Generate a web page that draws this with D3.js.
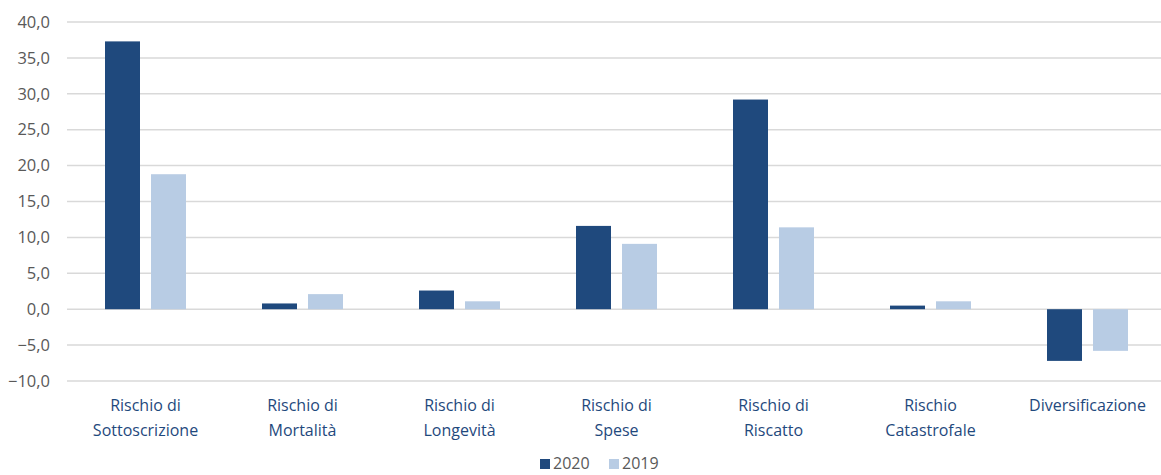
<!DOCTYPE html>
<html><head><meta charset="utf-8">
<script src="https://cdn.jsdelivr.net/npm/d3@7"></script>
<style>body{margin:0;background:#fff;}svg{display:block;}</style>
</head><body><svg id="c" width="1161" height="475"></svg>
<script>
const categories = [["Rischio di","Sottoscrizione"],["Rischio di","Mortalità"],["Rischio di","Longevità"],["Rischio di","Spese"],["Rischio di","Riscatto"],["Rischio","Catastrofale"],["Diversificazione"]];
const series = ["2020","2019"];
const values2020 = [37.3, 0.8, 2.6, 11.6, 29.2, 0.5, -7.2];
const values2019 = [18.8, 2.1, 1.1, 9.1, 11.4, 1.1, -5.8];
const yTicks = [-10,-5,0,5,10,15,20,25,30,35,40];
const colors = ["#1F497D","#B8CCE4"];

const svg = d3.select("#c");
const font = "'Open Sans', 'Liberation Sans', sans-serif";
const x = d3.scaleBand().domain(d3.range(categories.length)).range([67, 1166]).paddingInner(0).paddingOuter(0);
const y = d3.scaleLinear().domain([-10, 40]).range([381, 22]);
const xs = d3.scaleBand().domain(series).range([0, 81]).paddingInner(11/46);

// gridlines
svg.append("g").selectAll("line").data(yTicks).join("line")
  .attr("x1", 67).attr("x2", 1161)
  .attr("y1", d => y(d)).attr("y2", d => y(d))
  .attr("stroke", "#d9d9d9").attr("stroke-width", 1.5);

// y axis labels
const yAxis = d3.axisLeft(y).tickValues(yTicks).tickSize(0).tickPadding(0)
  .tickFormat(d => d3.format(".1f")(d).replace(".", ","));
const ga = svg.append("g").attr("transform", "translate(50,0)").call(yAxis);
ga.select(".domain").remove();
ga.selectAll("text").attr("font-family", font).attr("font-size", 16.5).attr("fill", "#595959");

// bars
const data = categories.map((c, i) => ({i, vals: [values2020[i], values2019[i]]}));
const gc = svg.append("g").selectAll("g").data(data).join("g")
  .attr("transform", d => `translate(${x(d.i) + (x.bandwidth() - 81) / 2},0)`);
gc.selectAll("rect").data(d => d.vals.map((v, k) => ({v, s: series[k], k}))).join("rect")
  .attr("x", d => xs(d.s)).attr("width", xs.bandwidth())
  .attr("y", d => y(Math.max(0, d.v))).attr("height", d => Math.abs(y(d.v) - y(0)))
  .attr("fill", d => colors[d.k]);

// category labels
const gl = svg.append("g").selectAll("text").data(categories).join("text")
  .attr("x", (d, i) => x(i) + x.bandwidth() / 2)
  .attr("y", 411)
  .attr("text-anchor", "middle").attr("font-family", font).attr("font-size", 16).attr("fill", "#1F497D");
gl.selectAll("tspan").data(d => d).join("tspan")
  .attr("x", function(){ return this.parentNode.getAttribute("x"); })
  .attr("dy", (d, j) => j === 0 ? 0 : 25).text(d => d);

// legend
const leg = svg.append("g").selectAll("g").data(series).join("g")
  .attr("transform", (d, i) => `translate(${540 + i * 69},0)`);
leg.append("rect").attr("x", 0).attr("y", 459).attr("width", 10).attr("height", 10).attr("fill", (d, i) => colors[i]);
leg.append("text").attr("x", 13).attr("y", 469).attr("font-family", font).attr("font-size", 16).attr("fill", "#595959").text(d => d);
</script></body></html>
